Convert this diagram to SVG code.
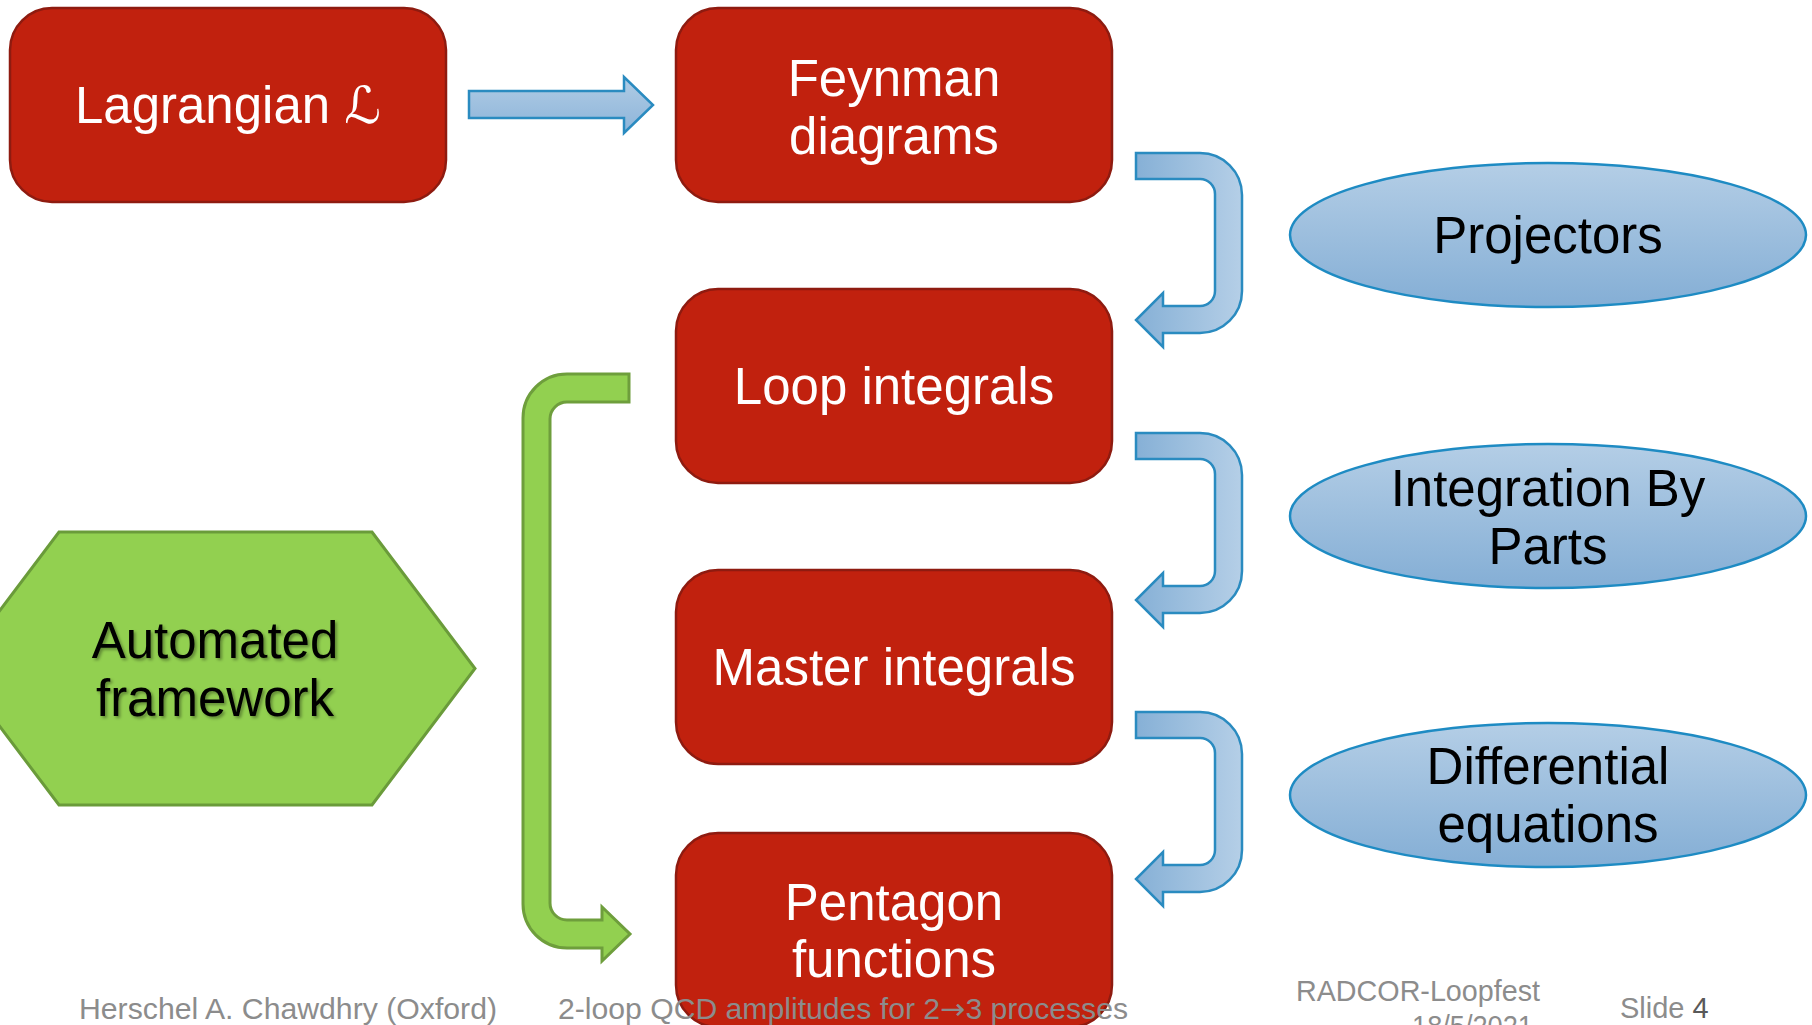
<svg xmlns="http://www.w3.org/2000/svg" width="1812" height="1025" viewBox="0 0 1812 1025">
<style>
.box{fill:#C1210E;stroke:#8E1B10;stroke-width:2.5}
.wt{fill:#FFFFFF;font-family:"Liberation Sans",Arial,sans-serif;font-size:51px;text-anchor:middle}
.bt{fill:#000000;font-family:"Liberation Sans",Arial,sans-serif;font-size:51px;text-anchor:middle}
.ell{fill:url(#gEll);stroke:#1E8BC3;stroke-width:2.5}
.bend{fill:url(#gBend);stroke:#2A8BC0;stroke-width:2.5}
.foot{fill:#8C8C8C;font-family:"Liberation Sans",Arial,sans-serif;font-size:29px}
</style>
<defs>
<linearGradient id="gEll" x1="0" y1="0" x2="0" y2="1">
<stop offset="0" stop-color="#B4CEE6"/>
<stop offset="1" stop-color="#84AED5"/>
</linearGradient>
<linearGradient id="gBend" x1="0" y1="0" x2="1" y2="0">
<stop offset="0" stop-color="#86B0D6"/>
<stop offset="1" stop-color="#B5CFE7"/>
</linearGradient>
<linearGradient id="gStraight" x1="0" y1="0" x2="0" y2="1">
<stop offset="0" stop-color="#B0CCE5"/>
<stop offset="1" stop-color="#8DB4D9"/>
</linearGradient>
<filter id="sh" x="-10%" y="-10%" width="120%" height="130%">
<feDropShadow dx="2" dy="2" stdDeviation="1.5" flood-color="#000" flood-opacity="0.35"/>
</filter>
</defs>
<rect width="1812" height="1025" fill="#FFFFFF"/>

<g id="connectors">
<path id="arrow-lag-feyn" d="M469 91 H624 V77 L653 105 L624 133 V118 H469 Z" fill="url(#gStraight)" stroke="#2A8BC0" stroke-width="2.5"/>
<path id="bend1" class="bend" d="M1136 153 H1200 A42 42 0 0 1 1242 195 V291 A42 42 0 0 1 1200 333 H1163 V347 L1136 320 L1163 293 V306 H1200 A15 15 0 0 0 1215 291 V194 A15 15 0 0 0 1200 179 H1136 Z"/>
<path id="bend2" class="bend" transform="translate(0,280)" d="M1136 153 H1200 A42 42 0 0 1 1242 195 V291 A42 42 0 0 1 1200 333 H1163 V347 L1136 320 L1163 293 V306 H1200 A15 15 0 0 0 1215 291 V194 A15 15 0 0 0 1200 179 H1136 Z"/>
<path id="bend3" class="bend" transform="translate(0,559)" d="M1136 153 H1200 A42 42 0 0 1 1242 195 V291 A42 42 0 0 1 1200 333 H1163 V347 L1136 320 L1163 293 V306 H1200 A15 15 0 0 0 1215 291 V194 A15 15 0 0 0 1200 179 H1136 Z"/>
<path id="green-arrow" d="M629 374 H567 A44 44 0 0 0 523 418 V904 A44 44 0 0 0 567 948 H602 V961 L630 934 L602 907 V920 H567 A17 17 0 0 1 550 903 V419 A17 17 0 0 1 567 402 H629 Z" fill="#92D050" stroke="#6E9E3C" stroke-width="3"/>
</g>

<g id="node-lagrangian">
<rect class="box" x="10" y="8" width="436" height="194" rx="42"/>
<text class="wt" x="228" y="123">Lagrangian <tspan font-family="DejaVu Serif, DejaVu Sans, serif" font-style="italic">ℒ</tspan></text>
</g>

<g id="node-feynman">
<rect class="box" x="676" y="8" width="436" height="194" rx="42"/>
<text class="wt" x="894" y="96">Feynman</text>
<text class="wt" x="894" y="154">diagrams</text>
</g>

<g id="node-loop">
<rect class="box" x="676" y="289" width="436" height="194" rx="42"/>
<text class="wt" x="894" y="404">Loop integrals</text>
</g>

<g id="node-master">
<rect class="box" x="676" y="570" width="436" height="194" rx="42"/>
<text class="wt" x="894" y="685">Master integrals</text>
</g>

<g id="node-projectors">
<ellipse class="ell" cx="1548" cy="235" rx="258" ry="72"/>
<text class="bt" x="1548" y="253">Projectors</text>
</g>

<g id="node-ibp">
<ellipse class="ell" cx="1548" cy="516" rx="258" ry="72"/>
<text class="bt" x="1548" y="506">Integration By</text>
<text class="bt" x="1548" y="564">Parts</text>
</g>

<g id="node-de">
<ellipse class="ell" cx="1548" cy="795" rx="258" ry="72"/>
<text class="bt" x="1548" y="784">Differential</text>
<text class="bt" x="1548" y="842">equations</text>
</g>

<g id="node-automated">
<polygon points="-44,668.5 59,532 372,532 475,668.5 372,805 59,805" fill="#92D050" stroke="#6A9B3A" stroke-width="3"/>
<text class="bt" x="215" y="658" font-size="53" filter="url(#sh)">Automated</text>
<text class="bt" x="215" y="716" font-size="53" filter="url(#sh)">framework</text>
</g>

<g id="node-pentagon">
<rect class="box" x="676" y="833" width="436" height="194" rx="42"/>
<text class="wt" x="894" y="920">Pentagon</text>
<text class="wt" x="894" y="977">functions</text>
</g>

<g id="footer">
<text class="foot" x="79" y="1019" textLength="418" lengthAdjust="spacingAndGlyphs">Herschel A. Chawdhry (Oxford)</text>
<text class="foot" x="558" y="1019" textLength="570" lengthAdjust="spacingAndGlyphs">2-loop QCD amplitudes for 2<tspan font-family="DejaVu Sans, sans-serif">→</tspan>3 processes</text>
<text class="foot" x="1296" y="1001" textLength="244" lengthAdjust="spacingAndGlyphs">RADCOR-Loopfest</text>
<text class="foot" x="1412" y="1036" textLength="121" lengthAdjust="spacingAndGlyphs">18/5/2021</text>
<text class="foot" x="1620" y="1018">Slide <tspan fill="#595959">4</tspan></text>
</g>
</svg>
